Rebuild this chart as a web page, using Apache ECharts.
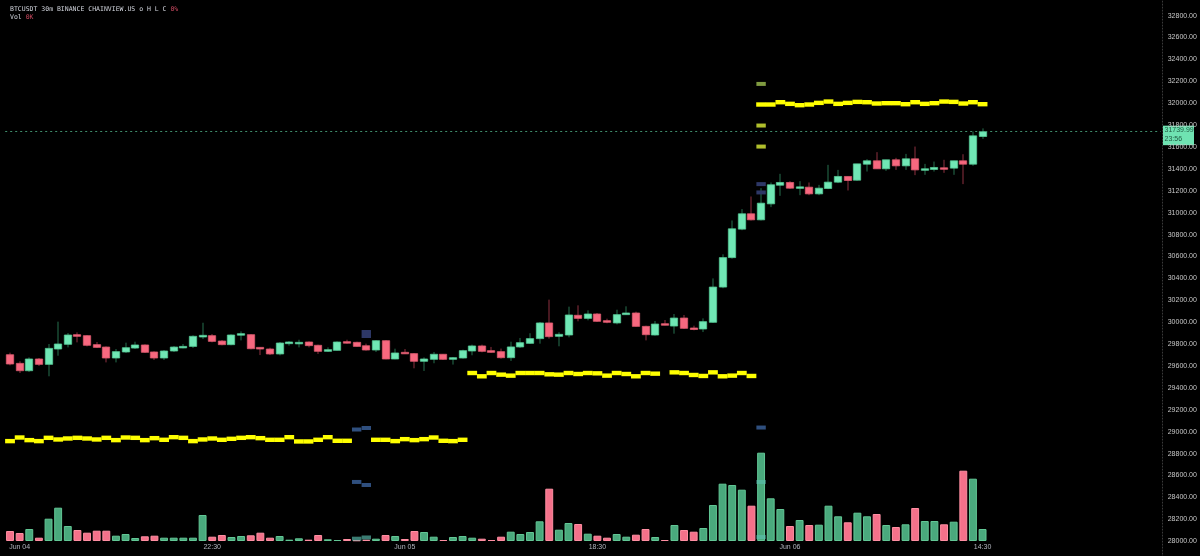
<!DOCTYPE html>
<html><head><meta charset="utf-8">
<script src="https://cdn.jsdelivr.net/npm/echarts@6/dist/echarts.min.js"></script>
<style>html,body{margin:0;padding:0;background:#000}#c{width:1200px;height:556px}</style>
</head><body><div id="c"></div>
<script>
const tickIndex = [1, 21, 41, 61, 81, 101];
const tickLabels = ['Jun 04', '22:30', 'Jun 05', '18:30', 'Jun 06', '14:30'];
const slotCount = 120;

const open = [29703,29624,29557,29664,29615,29755,29798,29886,29877,29795,
29773,29673,29728,29764,29792,29728,29673,29737,29767,29779,
29865,29877,29828,29795,29883,29886,29770,29755,29710,29804,
29810,29819,29789,29734,29743,29822,29816,29785,29746,29831,
29664,29725,29713,29643,29661,29707,29661,29673,29737,29783,
29740,29731,29676,29774,29807,29850,29993,29871,29883,30063,
30035,30075,30014,29993,30069,30084,29962,29883,29986,29965,
30038,29947,29938,29999,30321,30590,30850,30990,30935,31081,
31251,31276,31224,31233,31172,31221,31279,31331,31297,31443,
31474,31401,31483,31428,31492,31391,31395,31410,31407,31474,
31443,31696];
const close = [29618,29557,29664,29615,29761,29801,29883,29871,29789,29770,
29673,29731,29767,29792,29725,29673,29737,29773,29779,29871,
29880,29825,29795,29883,29895,29758,29755,29710,29810,29819,
29816,29786,29734,29749,29819,29810,29779,29746,29831,29664,
29719,29713,29643,29664,29707,29661,29676,29740,29783,29734,
29725,29676,29774,29813,29850,29993,29868,29889,30066,30035,
30075,30008,29999,30069,30084,29962,29886,29983,29974,30038,
29944,29935,30005,30321,30590,30853,30990,30935,31087,31255,
31276,31224,31236,31172,31224,31279,31331,31294,31446,31474,
31401,31483,31428,31492,31391,31401,31413,31401,31474,31443,
31702,31740];
const low = [29606,29536,29545,29600,29506,29694,29770,29816,29779,29764,
29633,29633,29719,29755,29719,29655,29655,29728,29761,29764,
29846,29816,29789,29789,29834,29752,29700,29700,29697,29786,
29770,29770,29710,29728,29740,29804,29776,29740,29728,29661,
29661,29710,29579,29555,29625,29655,29613,29667,29698,29725,
29719,29667,29646,29765,29801,29804,29850,29780,29862,30008,
30017,30002,29990,29980,30066,29959,29834,29877,29971,29895,
29938,29926,29910,29993,30310,30580,30840,30929,30929,31051,
31154,31218,31160,31160,31160,31215,31270,31203,31291,31376,
31401,31382,31391,31391,31343,31346,31376,31364,31346,31261,
31428,31674];
const high = [29722,29643,29679,29673,29801,30005,29901,29907,29883,29819,
29779,29755,29813,29822,29798,29734,29746,29782,29801,29880,
29995,29892,29837,29889,29916,29892,29773,29767,29819,29828,
29840,29825,29795,29770,29825,29840,29822,29804,29837,29837,
29758,29755,29719,29679,29728,29710,29682,29749,29795,29795,
29774,29759,29822,29856,29899,30002,30206,29908,30142,30154,
30108,30084,30032,30114,30145,30096,29968,30011,30020,30075,
30066,29968,30035,30400,30620,30929,31033,31148,31224,31276,
31355,31288,31288,31276,31254,31437,31391,31331,31446,31489,
31553,31483,31501,31537,31604,31446,31467,31483,31474,31534,
31741,31770];

const volume = [10,8,12,3.3,22.3,33.3,15,11,8.3,10.3,
10.3,5.3,7,3,4.7,5.3,3.3,3.3,3.3,3.3,
26,4.3,6,4,5,5.7,8.3,3.3,5,1.3,
2.7,1.3,6,1.7,1,2,0.7,1.3,2.3,6,
5,2,10,9,4.3,1,4,5,3.3,2.3,
1,4.3,9.3,7,9,19.7,52.3,11.3,18,17,
7.3,5.3,3.3,7,4.3,6.3,12,4,1,16,
11,9.3,13,36,57.3,56,51.3,35.3,88.3,42.7,
32,15,21,16,16.3,35.3,24.7,18.7,28.3,24.7,
27,16,14,16.7,33,20,20,16.7,19.3,70.3,
62.3,12];

const levelLine = [28914,28947,28923,28914,28944,28929,28938,28944,28938,28929,
28944,28923,28947,28944,28923,28941,28926,28950,28944,28914,
28929,28938,28926,28935,28944,28950,28941,28926,28926,28950,
28911,28911,28926,28950,28917,28917,null,null,28926,28926,
28914,28932,28923,28932,28947,28917,28914,28926,29536,29506,
29536,29521,29512,29536,29536,29536,29524,29521,29536,29527,
29536,29533,29512,29536,29527,29506,29536,29530,null,29542,
29536,29518,29509,29542,29506,29512,29536,29509,31988,31988,
32009,31994,31982,31988,32003,32015,31994,32003,32012,32009,
31997,32000,32000,31991,32009,31994,32000,32015,32012,31997,
32009,31991];

const markNavyTall = [[37, 29892]];
const markNavy = [[78, 31261], [78, 31185]];
const markOlive = [[78, 32176]];
const markLime = [[78, 31796], [78, 31604]];
const markSteel = [[36, 29020], [37, 29034], [36, 28541], [37, 28513], [78, 29038]];
const markTeal = [[36, 28023], [37, 28034], [78, 28541], [78, 28038]];

const lastPrice = 31739.99;
const lastPriceTimer = '23:56';
const titleLine = 'BTCUSDT 30m BINANCE CHAINVIEW.US o H L C ';
const titleChange = '0%';
const volLine = 'Vol ';
const volValue = '0K';

const categories = Array.from({length: slotCount}, (_, i) => String(i));
const candleData = open.map((o, i) => [i, o, close[i], low[i], high[i]]);
const volData = volume.map((v, i) => ({
  value: v,
  itemStyle: close[i] >= open[i]
    ? {color: '#4aa97d', borderColor: '#62c795'}
    : {color: '#f4718a', borderColor: '#ff8ea2'}
}));
const levelData = levelLine.map((v, i) => v == null ? null : [i, v]).filter(d => d);

const UP = '#70e7b5', UP_EDGE = '#55c996', UP_WICK = '#26704f';
const DN = '#f7687f', DN_EDGE = '#dc5a6f', DN_WICK = '#8e3040';

function renderCandle(params, api) {
  const idx = api.value(0), o = api.value(1), c = api.value(2), l = api.value(3), h = api.value(4);
  const pO = api.coord([idx, o]), pC = api.coord([idx, c]);
  const pL = api.coord([idx, l]), pH = api.coord([idx, h]);
  const w = api.size([1, 0])[0] * 0.76;
  const up = c >= o;
  const top = Math.min(pO[1], pC[1]);
  const hgt = Math.max(Math.abs(pO[1] - pC[1]), 1.5);
  const x = Math.round(pO[0]);
  return {
    type: 'group',
    children: [
      {type: 'line', shape: {x1: x, y1: pH[1], x2: x, y2: pL[1]},
       style: {stroke: up ? UP_WICK : DN_WICK, lineWidth: 1}},
      {type: 'rect', shape: {x: x - w / 2, y: top, width: w, height: hgt},
       style: {fill: up ? UP : DN, stroke: up ? UP_EDGE : DN_EDGE, lineWidth: 0.8}}
    ]
  };
}

function rectMarks(name, data, color, size) {
  return {
    name, type: 'scatter', xAxisIndex: 0, yAxisIndex: 0, data,
    symbol: 'rect', symbolSize: size, itemStyle: {color, opacity: 1}, z: 6, silent: true
  };
}

const gridLeft = 5.2, gridWidth = 1155.5;
const chart = echarts.init(document.getElementById('c'), null, {renderer: 'canvas'});
chart.setOption({
  backgroundColor: '#000',
  animation: false,
  grid: [
    {left: gridLeft, width: gridWidth, top: -6.3, height: 569.4, containLabel: false, outerBoundsMode: 'none'},
    {left: gridLeft, width: gridWidth, bottom: 15, height: 100, containLabel: false, outerBoundsMode: 'none'}
  ],
  xAxis: [
    {type: 'category', gridIndex: 0, data: categories, boundaryGap: true,
     axisLine: {show: false}, axisTick: {show: false}, axisLabel: {show: false}, splitLine: {show: false}},
    {type: 'category', gridIndex: 1, data: categories, boundaryGap: true,
     axisLine: {show: false}, axisTick: {show: false}, splitLine: {show: false},
     axisLabel: {
       interval: (idx) => tickIndex.includes(idx),
       formatter: (v, idx) => { const k = tickIndex.indexOf(Number(v)); return k >= 0 ? tickLabels[k] : ''; },
       color: '#b2b5be', fontSize: 7, margin: 3, fontFamily: 'Liberation Sans'
     }}
  ],
  yAxis: [
    {type: 'value', gridIndex: 0, position: 'right', offset: 2, min: 27800, max: 33000, interval: 200,
     axisLine: {show: true, lineStyle: {color: '#3a3a3a', type: [1, 2], width: 1}},
     axisTick: {show: false}, splitLine: {show: false},
     axisLabel: {showMinLabel: false, showMaxLabel: false, formatter: v => v.toFixed(2),
       color: '#c8c8c8', fontSize: 7, margin: 5, fontFamily: 'Liberation Sans'}},
    {type: 'value', gridIndex: 1, min: 0, max: 100, show: false}
  ],
  series: [
    {name: 'Vol', type: 'bar', xAxisIndex: 1, yAxisIndex: 1, data: volData,
     barWidth: '82%', itemStyle: {borderWidth: 1}, z: 1, silent: true},
    {name: 'BTCUSDT', type: 'custom', xAxisIndex: 0, yAxisIndex: 0, data: candleData,
     renderItem: renderCandle, encode: {x: 0, y: [1, 2, 3, 4]}, z: 3, silent: true},
    {name: 'Level', type: 'scatter', xAxisIndex: 0, yAxisIndex: 0, data: levelData,
     symbol: 'rect', symbolSize: [9.8, 4.4], itemStyle: {color: '#ffff00', opacity: 1}, z: 5, silent: true,
     markLine: {silent: true, symbol: ['none', 'none'], animation: false,
       lineStyle: {color: '#3f8d6c', type: [2, 3], width: 1},
       label: {show: false}, data: [{yAxis: lastPrice}]}},
    rectMarks('m1', markNavyTall, '#2d3766', [9.4, 8]),
    rectMarks('m2', markNavy, '#2d3766', [9.4, 4]),
    rectMarks('m3', markOlive, '#7f9a40', [9.4, 4]),
    rectMarks('m4', markLime, '#b0bf2c', [9.4, 4]),
    rectMarks('m5', markSteel, '#2f4f7e', [9.4, 4]),
    rectMarks('m6', markTeal, 'rgba(90,190,175,0.65)', [9.4, 4])
  ]
});

const yLast = chart.convertToPixel({yAxisIndex: 0}, lastPrice);
const axisX = chart.convertToPixel({xAxisIndex: 0}, 0) - 4.8 + gridWidth + 2.3;
chart.setOption({
  graphic: [
    {type: 'text', left: 10, top: 6, silent: true,
     style: {text: titleLine + '{r|' + titleChange + '}', fill: '#d1d4dc', font: '6.5px "DejaVu Sans Mono"',
       rich: {r: {fill: '#c8485f', font: '6.5px "DejaVu Sans Mono"'}}}},
    {type: 'text', left: 10, top: 14, silent: true,
     style: {text: volLine + '{r|' + volValue + '}', fill: '#d1d4dc', font: '6.5px "DejaVu Sans Mono"',
       rich: {r: {fill: '#c8485f', font: '6.5px "DejaVu Sans Mono"'}}}},
    {type: 'group', x: axisX, y: yLast, silent: true, children: [
      {type: 'rect', shape: {x: 0, y: -6, width: 31, height: 19.5}, style: {fill: '#6fe3b2'}},
      {type: 'text', x: 1.5, y: -5, style: {text: lastPrice.toFixed(2), fill: '#1f5a42', font: '7px "Liberation Sans"'}},
      {type: 'text', x: 1.5, y: 4, style: {text: lastPriceTimer, fill: '#1f5a42', font: '7px "Liberation Sans"'}}
    ]}
  ]
});
</script></body></html>
